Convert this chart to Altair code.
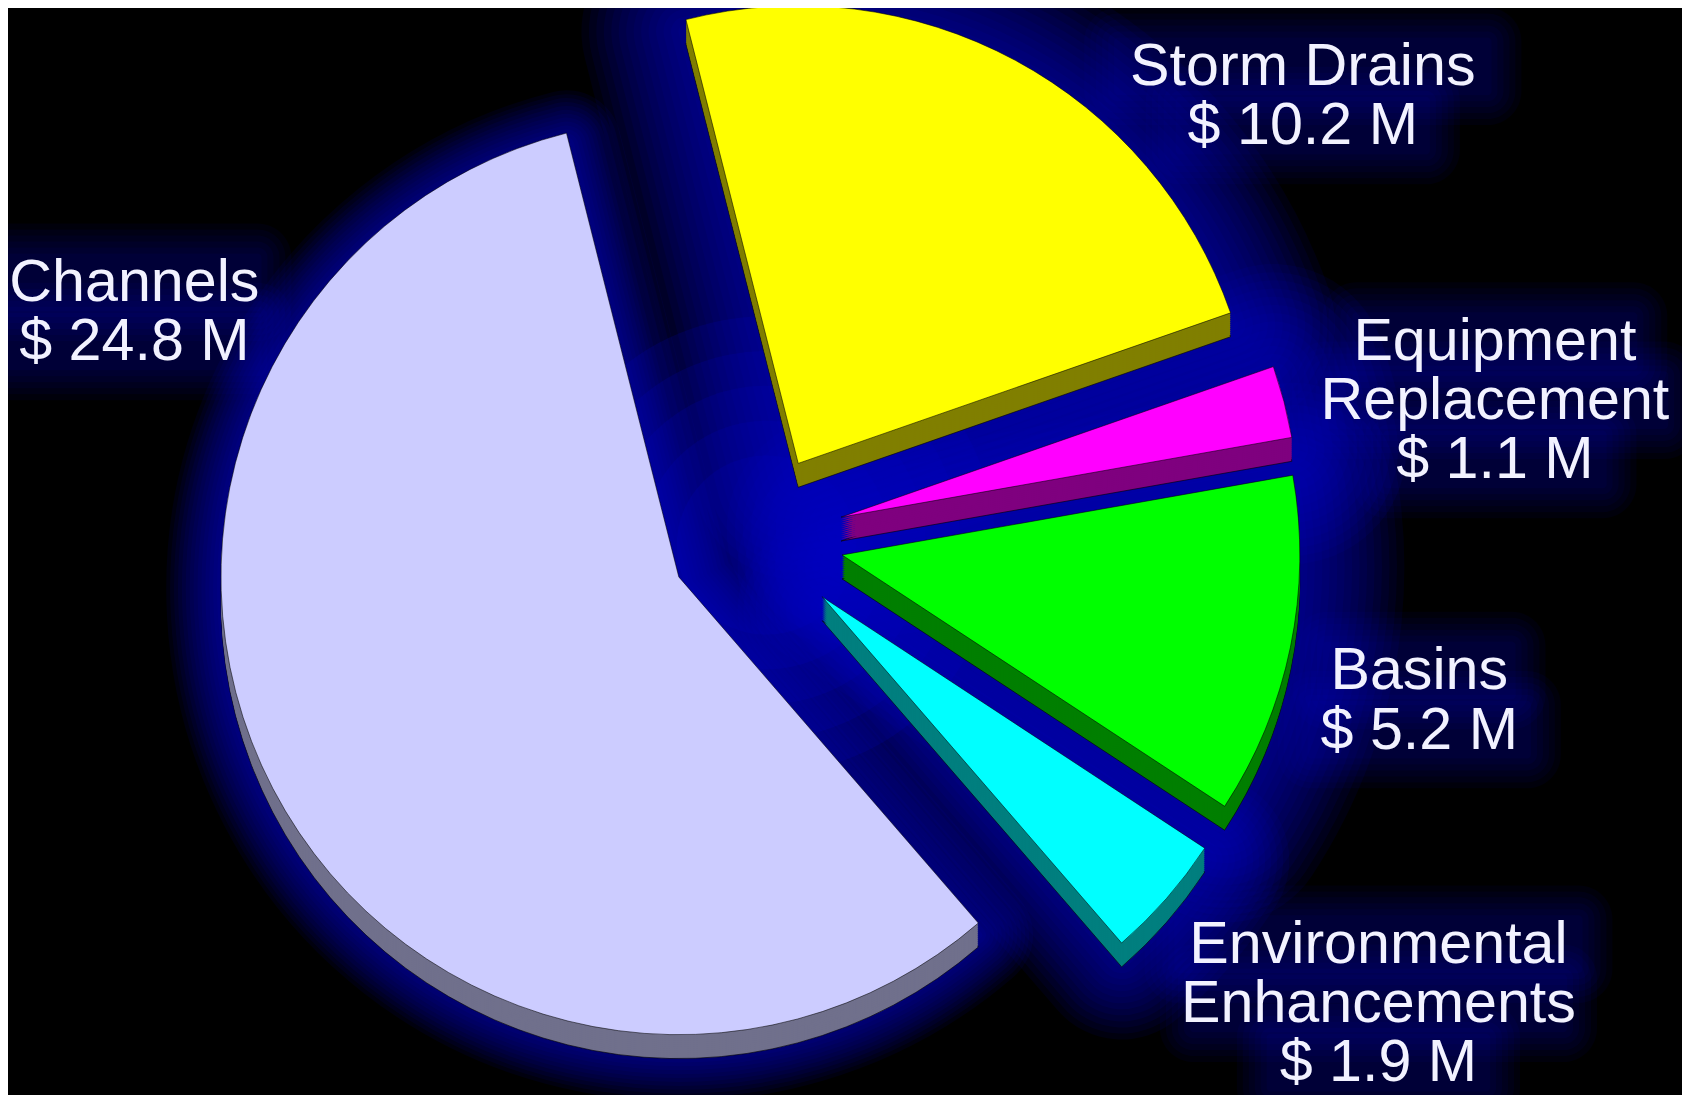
import math
import altair as alt
import pandas as pd

# --- chart values ---
names = ["Storm Drains", "Equipment Replacement", "Basins", "Environmental Enhancements", "Channels"]
values = [10.2, 1.1, 5.2, 1.9, 24.8]
label_lines = [
    ["Storm Drains", "$ 10.2 M"],
    ["Equipment", "Replacement", "$ 1.1 M"],
    ["Basins", "$ 5.2 M"],
    ["Environmental", "Enhancements", "$ 1.9 M"],
    ["Channels", "$ 24.8 M"],
]

# --- styling and layout (page pixels, chart starts 8px in) ---
top_colors = ["#FFFF00", "#FF00FF", "#00FF00", "#00FFFF", "#CCCCFF"]
side_colors = ["#807F00", "#7F007F", "#007F00", "#007F7F", "#70708C"]
apex = [(802, 463), (845, 517), (846, 555), (826, 597), (682, 577)]
label_anchor = [(1309, 83), (1502, 359), (1426, 690), (1385, 965), (135, 300)]
glow_width = [210, 230, 210, 170, 110]
hub = (770, 545)
hub_radii = [230, 195, 160, 125, 90]
line_step = 59.5
RADIUS = 460
DEPTH = 24
FONT = "Liberation Sans"
FONT_SIZE = 59.5
W, H = 1682, 1087
OFF = 8
START = math.radians(345.8)

total = sum(values)
ends = [sum(values[:i + 1]) for i in range(len(values))]
starts = [e - v for e, v in zip(ends, values)]
df = pd.DataFrame({"name": names, "value": values, "start": starts, "end": ends})

theta_scale = alt.Scale(domain=[0, total], range=[START, START + 2 * math.pi])
one_row = pd.DataFrame({"a": [0]})


def wedge(i, dy=0, **mark):
    cx, cy = apex[i]
    return alt.Chart(df.iloc[[i]]).mark_arc(radius=RADIUS, **mark).encode(
        theta=alt.Theta("start:Q", scale=theta_scale),
        theta2=alt.Theta2("end:Q"),
        x=alt.value(cx - OFF),
        y=alt.value(cy - OFF + dy),
    )


def hub_glow(r, o):
    return alt.Chart(one_row).mark_arc(radius=r, color="#0000C8", opacity=o).encode(
        theta=alt.value(0),
        theta2=alt.value(2 * math.pi),
        x=alt.value(hub[0] - OFF),
        y=alt.value(hub[1] - OFF),
    )


def text_line(s, x, y, **mark):
    t = pd.DataFrame({"t": [s]})
    return alt.Chart(t).mark_text(
        font=FONT, fontSize=FONT_SIZE, align="center", baseline="alphabetic", **mark
    ).encode(text="t:N", x=alt.value(x - OFF), y=alt.value(y - OFF))


def label_glow(s, x, y, g, o):
    half = len(s) * 0.26 * FONT_SIZE
    return alt.Chart(one_row).mark_rect(
        color="#0000C8", opacity=o, cornerRadius=g
    ).encode(
        x=alt.value(x - OFF - half - g),
        x2=alt.value(x - OFF + half + g),
        y=alt.value(y - OFF - 44 - g),
        y2=alt.value(y - OFF + 6 + g),
    )


layers = []

# brighter blue in the gaps around the middle of the exploded pie
for r in hub_radii:
    layers.append(hub_glow(r, 0.16))

# soft blue glow behind the slices: equal thin steps so it fades smoothly
for step in range(14):
    frac = 1 - step / 14
    for i in range(len(values)):
        layers.append(wedge(i, dy=DEPTH // 2, fillOpacity=0, stroke="#0000D0",
                            strokeWidth=glow_width[i] * frac,
                            strokeOpacity=0.075, strokeJoin="round"))

# soft blue glow behind the labels
for i, lines in enumerate(label_lines):
    x, y = label_anchor[i]
    for k, s in enumerate(lines):
        for g in range(34, 0, -6):
            layers.append(label_glow(s, x, y + k * line_step, g, 0.055))

# extruded sides
for i in range(len(values)):
    layers.append(wedge(i, dy=DEPTH, fill=side_colors[i], stroke="#000000", strokeWidth=1,
                        strokeOpacity=0.6))
    for d in range(DEPTH - 2, 0, -2):
        layers.append(wedge(i, dy=d, fill=side_colors[i]))

# top faces
for i in range(len(values)):
    layers.append(wedge(i, fill=top_colors[i], stroke="#000000", strokeWidth=1, strokeOpacity=0.55))

# labels
for i, lines in enumerate(label_lines):
    x, y = label_anchor[i]
    for k, s in enumerate(lines):
        layers.append(text_line(s, x, y + k * line_step, fill="#F2F2FF"))

chart = alt.layer(*layers).properties(
    width=W, height=H, background="#000000", padding=0, autosize=alt.AutoSizeParams(type="none")
).configure_view(fill="#000000", stroke=None)

chart.save("out.html", embed_options={"renderer": "svg", "actions": False})
